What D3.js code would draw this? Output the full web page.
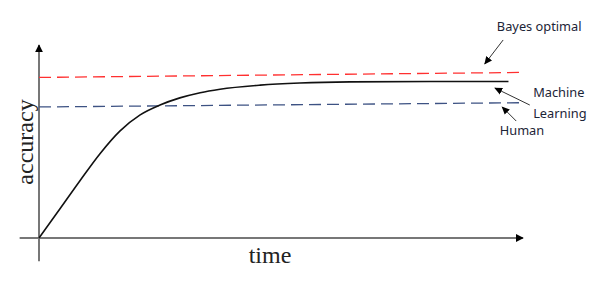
<!DOCTYPE html>
<html>
<head>
<meta charset="utf-8">
<script src="https://cdn.jsdelivr.net/npm/d3@7"></script>
<style>
  html, body { margin: 0; padding: 0; background: #fff; }
</style>
</head>
<body>
<div class="canvas"></div>
<script>
// learning curve (time, accuracy)
const mlTime = [0, 4.3, 8.5, 12.6, 16.7, 20.9, 25, 29.1, 33.3, 37.4, 45.7, 53.9, 64.3, 80.8, 97]
const mlAccuracy = [0, 15, 29.8, 43.7, 55.4, 63.8, 68.9, 72.6, 75.3, 77.1, 79.2, 80.3, 80.9, 81.1, 81.1]
// dashed reference levels: [start, end]
const bayesTime = [0, 100.4]
const bayesAccuracy = [83.2, 85.8]
const humanTime = [0, 100]
const humanAccuracy = [67.9, 70.1]
const axisTimeRange = [-4, 100]
const axisAccuracyRange = [-12, 100]
// annotations: text, time, accuracy
const labels = [
  ['Bayes optimal', 94.6, 107.3],
  ['Machine', 102.1, 73.1],
  ['Learning', 102.1, 62.2],
  ['Human', 95.2, 53.4]
]
// pointers: from (time, accuracy) to (time, accuracy)
const pointers = [
  [95.9, 102.6, 92.1, 90.2],
  [101.4, 68.9, 94.2, 77.7],
  [98.6, 60.6, 95.7, 67.9]
]

const width = 610
const height = 281

const x = d3.scaleLinear().domain([0, 100]).range([39, 523])
const y = d3.scaleLinear().domain([0, 100]).range([238, 45])

const svg = d3.select('.canvas')
  .append('svg')
  .attr('width', width)
  .attr('height', height)

const defs = svg.append('defs')
defs.append('marker')
  .attr('id', 'axisHead')
  .attr('viewBox', '0 0 10 10')
  .attr('refX', 9).attr('refY', 5)
  .attr('markerUnits', 'userSpaceOnUse')
  .attr('markerWidth', 8).attr('markerHeight', 8)
  .attr('orient', 'auto')
  .append('path').attr('d', 'M0,0L10,5L0,10Z').attr('fill', '#000')
defs.append('marker')
  .attr('id', 'pointHead')
  .attr('viewBox', '0 0 10 10')
  .attr('refX', 9).attr('refY', 5)
  .attr('markerUnits', 'userSpaceOnUse')
  .attr('markerWidth', 8).attr('markerHeight', 8)
  .attr('orient', 'auto')
  .append('path').attr('d', 'M0,0.5L10,5L0,9.5Z').attr('fill', '#000')

// axes
svg.append('line')
  .attr('x1', x(axisTimeRange[0])).attr('x2', x(axisTimeRange[1]))
  .attr('y1', y(0)).attr('y2', y(0))
  .attr('stroke', '#777').attr('stroke-width', 2)
  .attr('marker-end', 'url(#axisHead)')
svg.append('line')
  .attr('x1', x(0)).attr('x2', x(0))
  .attr('y1', y(axisAccuracyRange[0])).attr('y2', y(axisAccuracyRange[1]))
  .attr('stroke', '#777').attr('stroke-width', 2)
  .attr('marker-end', 'url(#axisHead)')

const line = d3.line()
  .x(d => x(d[0]))
  .y(d => y(d[1]))

svg.append('path')
  .datum(d3.zip(bayesTime, bayesAccuracy))
  .attr('d', line)
  .attr('fill', 'none')
  .attr('stroke', '#ff3030')
  .attr('stroke-width', 1.3)
  .attr('stroke-dasharray', '12,6')

svg.append('path')
  .datum(d3.zip(humanTime, humanAccuracy))
  .attr('d', line)
  .attr('fill', 'none')
  .attr('stroke', '#3d5283')
  .attr('stroke-width', 1.3)
  .attr('stroke-dasharray', '12,6')

svg.append('path')
  .datum(d3.zip(mlTime, mlAccuracy))
  .attr('d', line.curve(d3.curveMonotoneX))
  .attr('fill', 'none')
  .attr('stroke', '#111')
  .attr('stroke-width', 1.6)

// axis titles
svg.append('text')
  .attr('x', 270).attr('y', 263)
  .attr('text-anchor', 'middle')
  .attr('font-family', '"Liberation Serif", serif')
  .attr('font-size', 24)
  .attr('fill', '#222')
  .text('time')
svg.append('text')
  .attr('transform', 'translate(33, 142) rotate(-90)')
  .attr('text-anchor', 'middle')
  .attr('font-family', '"Liberation Serif", serif')
  .attr('font-size', 24)
  .attr('fill', '#222')
  .text('accuracy')

// annotations
svg.selectAll('.pointer')
  .data(pointers)
  .enter().append('line')
  .attr('class', 'pointer')
  .attr('x1', d => x(d[0])).attr('y1', d => y(d[1]))
  .attr('x2', d => x(d[2])).attr('y2', d => y(d[3]))
  .attr('stroke', '#333').attr('stroke-width', 1)
  .attr('marker-end', 'url(#pointHead)')

svg.selectAll('.label')
  .data(labels)
  .enter().append('text')
  .attr('class', 'label')
  .attr('x', d => x(d[1])).attr('y', d => y(d[2]))
  .attr('font-family', '"Noto Sans", sans-serif')
  .attr('font-size', 12.8)
  .attr('fill', '#1c2437')
  .text(d => d[0])
</script>
</body>
</html>
